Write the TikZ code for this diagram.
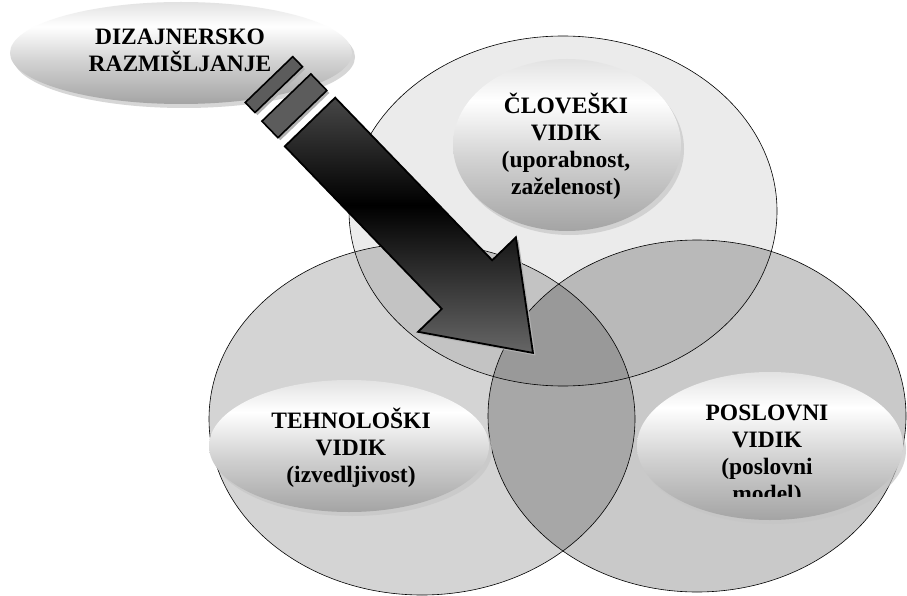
\documentclass[tikz,border=0pt]{standalone}
\usepackage{fontspec}
\setmainfont{Liberation Serif}
\usetikzlibrary{shapes.geometric,shadows}
\definecolor{arlow}{HTML}{666666}
\definecolor{artop}{HTML}{474747}
\definecolor{barc}{HTML}{5C5C5C}
\definecolor{glbot}{HTML}{A4A4A4}
\definecolor{glmid}{HTML}{D2D2D2}
\definecolor{gltop}{HTML}{E2E2E2}
\pgfdeclareverticalshading{glossy}{100bp}{color(0bp)=(glbot); color(25bp)=(glbot); color(46bp)=(glmid); color(63bp)=(white); color(75bp)=(gltop); color(100bp)=(gltop)}
\pgfdeclareverticalshading{arrowsh}{100bp}{color(0bp)=(arlow); color(25bp)=(arlow); color(54bp)=(black); color(75bp)=(artop); color(100bp)=(artop)}
\begin{document}
\begin{tikzpicture}[x=1pt,y=-1pt,
  bigell/.style={ellipse, draw=black, line width=0.6pt, inner sep=0pt, fill=black},
  gloss/.style={ellipse, inner sep=0pt, shade, shading=glossy,
     drop shadow={shadow xshift=3pt, shadow yshift=-4pt, fill=gray!45, opacity=0.7}},
  vidtext/.style={font=\fontsize{23.5}{27}\selectfont\bfseries, align=center, inner sep=0pt},
  shadowed/.style={drop shadow={shadow xshift=2.5pt, shadow yshift=-2.5pt, fill=gray!60, opacity=1}},
  barbox/.style={draw=black, line width=1.6pt, fill=barc, shadowed},
  arrowbody/.style={shade, shading=arrowsh, draw=black, line width=1.8pt, line join=miter, shadowed}]
\useasboundingbox (0,0) rectangle (907,596);
\fill[white] (0,0) rectangle (907,596);

% three big overlapping ellipses
\node[bigell, fill opacity=0.08, minimum width=428pt, minimum height=350pt] (human) at (563,211) {};
\node[bigell, fill opacity=0.17, minimum width=426pt, minimum height=352pt] (tech) at (422,419) {};
\node[bigell, fill opacity=0.21, minimum width=418pt, minimum height=352pt] (biz) at (697,416) {};

% glossy inner ellipses
\node[gloss, minimum width=342pt, minimum height=102pt] (dizell) at (181,53) {};
\node[gloss, minimum width=228pt, minimum height=172pt] (clovell) at (567,145) {};
\node[gloss, minimum width=280pt, minimum height=132pt] (tehell) at (349,446) {};
\node[gloss, minimum width=266pt, minimum height=148pt] (posell) at (770,446) {};

% texts
\node[vidtext] (diztext) at (180,50) {DIZAJNERSKO\\RAZMIŠLJANJE};
\node[vidtext] (clovtext) at (566,146) {ČLOVEŠKI\\VIDIK\\(uporabnost,\\zaželenost)};
\node[vidtext] (tehtext) at (351,448) {TEHNOLOŠKI\\VIDIK\\(izvedljivost)};
\begin{scope}
  \clip (620,360) rectangle (907,496);
  \node[vidtext] (postext) at (767,456) {POSLOVNI\\VIDIK\\(poslovni\\model)};
\end{scope}

% arrow with bars
\begin{scope}[shift={(310,122)}, rotate=-46]
  \coordinate (a1) at (0,-35);
  \coordinate (a2) at (226,-35);
  \coordinate (a3) at (226,-68);
  \coordinate (a4) at (321,0);
  \coordinate (a5) at (226,68);
  \coordinate (a6) at (226,35);
  \coordinate (a7) at (0,35);
  \draw[barbox] (-59,-33) rectangle (-45,33);
  \draw[barbox] (-34,-34) rectangle (-11,34);
\end{scope}
\path[arrowbody] (a1) -- (a2) -- (a3) -- (a4) -- (a5) -- (a6) -- (a7) -- cycle;
\end{tikzpicture}
\end{document}
